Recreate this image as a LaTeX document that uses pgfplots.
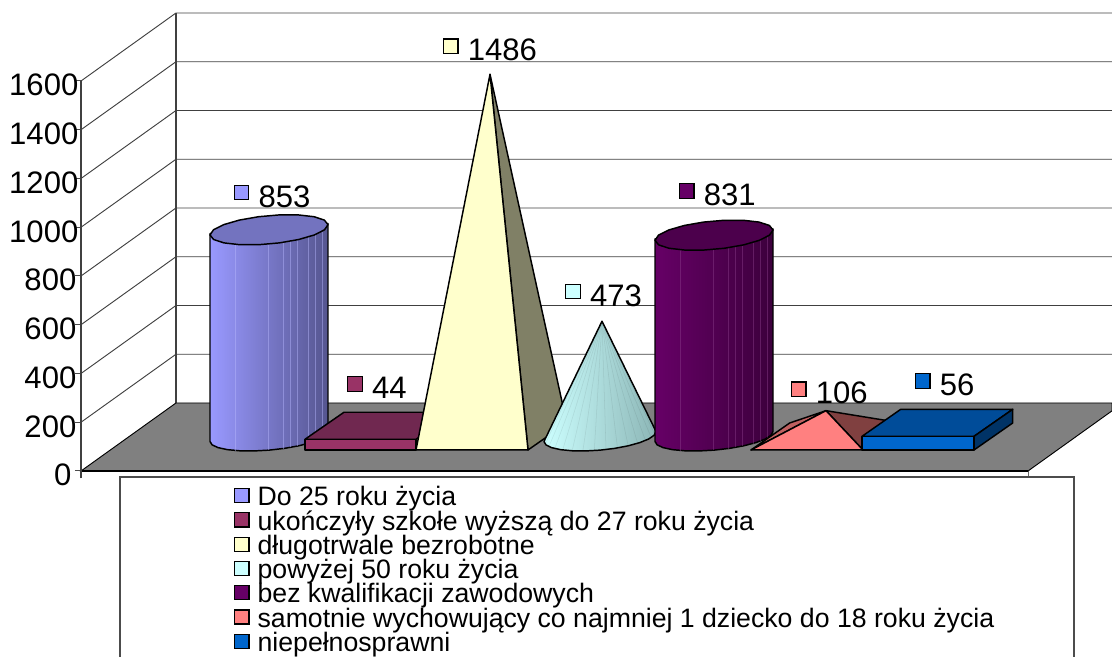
\documentclass[border=0pt]{standalone}
\usepackage{fontspec}
\setmainfont{Liberation Sans}
\usepackage{pgfplots}
\usepackage{pgfplotstable}
\pgfplotsset{compat=1.18}

\definecolor{9999FF}{HTML}{9999FF}
\definecolor{8181D8}{HTML}{8181D8}
\definecolor{55558F}{HTML}{55558F}
\definecolor{7373BF}{HTML}{7373BF}
\definecolor{702850}{HTML}{702850}
\definecolor{993366}{HTML}{993366}
\definecolor{808066}{HTML}{808066}
\definecolor{FFFFCC}{HTML}{FFFFCC}
\definecolor{CCFFFF}{HTML}{CCFFFF}
\definecolor{B4DEDE}{HTML}{B4DEDE}
\definecolor{8CB6B6}{HTML}{8CB6B6}
\definecolor{660066}{HTML}{660066}
\definecolor{5A005A}{HTML}{5A005A}
\definecolor{3C003C}{HTML}{3C003C}
\definecolor{4C004C}{HTML}{4C004C}
\definecolor{BF6060}{HTML}{BF6060}
\definecolor{804040}{HTML}{804040}
\definecolor{FF8080}{HTML}{FF8080}
\definecolor{004C99}{HTML}{004C99}
\definecolor{003366}{HTML}{003366}
\definecolor{0066CC}{HTML}{0066CC}

% x axis runs in picture pixels, y axis in chart units (0.24375 px per unit)
% the floor of the row of shapes sits at y=141.5 (centre), 86.2 (front), 197 (back)
\pgfplotstableread{
x k
81 0
176 1
1112 1
}\wall
\pgfplotstableread{
t lvl
200 0
215 0
230 0
245 0
260 0
275 0
290 0
305 0
320 0
335 0
350 0
5 0
20 0
20 1
200 1
}\ringbody
\pgfplotstableread{
t lvl
0 1
20 1
40 1
60 1
80 1
100 1
120 1
140 1
160 1
180 1
200 1
220 1
240 1
260 1
280 1
300 1
320 1
340 1
}\ringtop
\pgfplotstableread{
t lvl
200 0
215 0
230 0
245 0
260 0
275 0
290 0
305 0
320 0
335 0
350 0
5 0
20 0
20 1
}\conebody
\pgfplotstableread{
t lvl
0 0
0 1
}\stripe

\newcommand{\cyl}[7]{%
  \addplot[forget plot, draw=black, line width=1.1pt, line join=round, left color=#3, middle color=#4, right color=#5]
    table[x expr={#1+55.5*cos(\thisrow{t})+20*sin(\thisrow{t})}, y expr={141.5+#2*\thisrow{lvl}+59.5*sin(\thisrow{t})}] {\ringbody} --cycle;
  \pgfplotsinvokeforeach{255,289,304,311,318,331,341,354}{%
    \addplot[forget plot, draw=#7, draw opacity=0.45, line width=0.35pt]
      table[x expr={#1+55.5*cos(##1)+20*sin(##1)}, y expr={141.5+#2*\thisrow{lvl}+59.5*sin(##1)}] {\stripe};
  }
  \addplot[forget plot, draw=black, line width=1.1pt, line join=round, fill=#6]
    table[x expr={#1+55.5*cos(\thisrow{t})+20*sin(\thisrow{t})}, y expr={136.5+#2*\thisrow{lvl}+62*sin(\thisrow{t})}] {\ringtop} --cycle;
}
\newcommand{\dlabel}[4]{%
  \addplot[only marks, forget plot, mark=square*, mark size=5.4pt, mark options={fill=#1, draw=black, line width=0.9pt},
    point meta=explicit symbolic, nodes near coords,
    nodes near coords style={anchor=west, inner sep=0pt, font=\fontsize{23.3}{23.3}\selectfont, xshift=12.4pt, yshift=-3pt}]
    coordinates {(#2,#3) [#4]};
}

\begin{document}
\begin{tikzpicture}
\useasboundingbox (-60.75pt,0pt) rectangle (773.25pt,492pt);
\begin{axis}[
  at={(0pt,0pt)}, anchor=south west,
  scale only axis, width=834pt-60.75pt, height=492pt,
  xmin=81, xmax=1112, ymin=-759, ymax=1932.3,
  clip=false,
  axis x line=none,
  axis y line=left,
  axis line style={draw=none},
  ytick={0,200,...,1600},
  yticklabels={0\rule{5.2pt}{0pt},200\rule{1.5pt}{0pt},400\rule{1.5pt}{0pt},600\rule{1.5pt}{0pt},800\rule{1.5pt}{0pt},1000,1200,1400,1600},
  tick align=outside,
  major tick length=4.5pt,
  tick style={draw=black!70, line width=0.75pt},
  ticklabel style={font=\fontsize{23.3}{23.3}\selectfont},
  yticklabel style={inner xsep=0pt, xshift=2.7pt, yshift=-3.2pt},
  legend image code/.code={\draw[#1, line width=0.9pt] (0pt,-2.6pt) rectangle (10.6pt,8pt);},
  legend style={at={(axis cs:234,-65)}, anchor=north west, draw=none, fill=none,
    font=\fontsize{20}{20}\selectfont, row sep=0pt, inner sep=0pt,
    /tikz/column 1/.style={column sep=6pt},
    nodes={inner sep=0pt, text height=14pt, text depth=4.2pt},
    cells={anchor=west}},
]
% legend frame, open below the page edge
\addplot[forget plot, draw=black!60, line width=0.75pt] coordinates {(1028,0)(1028,-30)};
\addplot[forget plot, draw=black!70, line width=1pt, fill=white] coordinates {(120,-780)(120,-25)(1074,-25)(1074,-780)};
% walls
\pgfplotsinvokeforeach{200,400,600,800,1000,1200,1400,1600}{
  \addplot[forget plot, draw=black!75, line width=0.7pt] table[x=x, y expr={#1+279*\thisrow{k}}] {\wall};
}
\addplot[forget plot, draw=black!75, line width=0.8pt] coordinates {(176,279)(176,1879)};
\addplot[forget plot, draw=black, fill=gray, line width=0.7pt] coordinates {(81,0)(176,279)(1112,279)(1112,246.7)(1028,0)} --cycle;
\addplot[forget plot, draw=black, line width=1.1pt] coordinates {(81,0)(1028,0)};
\addplot[forget plot, draw=black!75, line width=1.1pt] coordinates {(81,-30)(81,1600)};
% Do 25 roku zycia
\cyl{269}{853}{9999FF}{8181D8}{55558F}{7373BF}{white!30!9999FF}
% ukonczyly szkole wyzsza: 44
\addplot[forget plot, draw=black, line width=1.1pt, line join=round, fill=702850] coordinates {(305,130.2)(416,130.2)(455,241)(344,241)} --cycle;
\addplot[forget plot, draw=black, line width=1.1pt, line join=round, fill=993366] coordinates {(305,86.2)(416,86.2)(416,130.2)(305,130.2)} --cycle;
% dlugotrwale bezrobotne: 1486
\addplot[forget plot, draw=black, line width=1.1pt, line join=round, fill=808066] coordinates {(490,1627.5)(528,86.2)(566.7,197)} --cycle;
\addplot[forget plot, draw=black, line width=1.1pt, line join=round, fill=FFFFCC] coordinates {(490,1627.5)(416,86.2)(528,86.2)} --cycle;
% powyzej 50 roku zycia: 473
\addplot[forget plot, draw=black, line width=1.1pt, line join=round, left color=CCFFFF, middle color=B4DEDE, right color=8CB6B6]
  table[x expr={\thisrow{lvl}*602+(1-\thisrow{lvl})*(600+52.7*cos(\thisrow{t})+19*sin(\thisrow{t}))},
        y expr={141.5+473*\thisrow{lvl}+(1-\thisrow{lvl})*59.5*sin(\thisrow{t})}] {\conebody} --cycle;
\pgfplotsinvokeforeach{212,224,236,248,260,272,284,296,308,320,332,344,356,368}{
  \addplot[forget plot, draw=black, draw opacity=0.08, line width=0.4pt]
    table[x expr={\thisrow{lvl}*602+(1-\thisrow{lvl})*(600+52.7*cos(#1)+19*sin(#1))},
          y expr={141.5+473*\thisrow{lvl}+(1-\thisrow{lvl})*59.5*sin(#1)}] {\stripe};
}
% bez kwalifikacji: 831
\cyl{714}{831}{660066}{5A005A}{3C003C}{4C004C}{white!25!660066}
% samotnie wychowujacy: 106
\addplot[forget plot, draw=black, line width=1.1pt, line join=round, fill=BF6060] coordinates {(826,247.5)(751,86.2)(789.7,197)} --cycle;
\addplot[forget plot, draw=black, line width=1.1pt, line join=round, fill=804040] coordinates {(826,247.5)(863,86.2)(901.7,197)} --cycle;
\addplot[forget plot, draw=black, line width=1.1pt, line join=round, fill=FF8080] coordinates {(826,247.5)(751,86.2)(863,86.2)} --cycle;
% niepelnosprawni: 56
\addplot[forget plot, draw=black, line width=1.1pt, line join=round, fill=004C99] coordinates {(862,142.2)(974,142.2)(1012.7,253)(900.7,253)} --cycle;
\addplot[forget plot, draw=black, line width=1.1pt, line join=round, fill=003366] coordinates {(974,86.2)(1012.7,197)(1012.7,253)(974,142.2)} --cycle;
\addplot[forget plot, draw=black, line width=1.1pt, line join=round, fill=0066CC] coordinates {(862,86.2)(974,86.2)(974,142.2)(862,142.2)} --cycle;
% data labels
\dlabel{9999FF}{241.5}{1142.6}{853}
\dlabel{993366}{355}{356.9}{44}
\dlabel{FFFFCC}{450.7}{1742.4}{1486}
\dlabel{CCFFFF}{573}{735.6}{473}
\dlabel{660066}{686.7}{1148.7}{831}
\dlabel{FF8080}{798.7}{335.2}{106}
\dlabel{0066CC}{922.7}{369.2}{56}
% legend
\addlegendimage{fill=9999FF, draw=black}\addlegendentry{Do 25 roku życia}
\addlegendimage{fill=993366, draw=black}\addlegendentry{ukończyły szkołe wyższą do 27 roku życia}
\addlegendimage{fill=FFFFCC, draw=black}\addlegendentry{długotrwale bezrobotne}
\addlegendimage{fill=CCFFFF, draw=black}\addlegendentry{powyżej 50 roku życia}
\addlegendimage{fill=660066, draw=black}\addlegendentry{bez kwalifikacji zawodowych}
\addlegendimage{fill=FF8080, draw=black}\addlegendentry{samotnie wychowujący co najmniej 1 dziecko do 18 roku życia}
\addlegendimage{fill=0066CC, draw=black}\addlegendentry{niepełnosprawni}
\end{axis}
\end{tikzpicture}
\end{document}
